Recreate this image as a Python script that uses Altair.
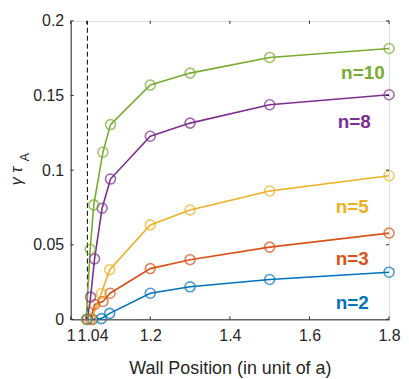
import altair as alt
import pandas as pd

# ---- data ----
x_n2 = [1.055, 1.077, 1.098, 1.2, 1.3, 1.5, 1.8]
y_n2 = [0.0, 0.0005, 0.004, 0.0175, 0.0218, 0.0267, 0.0316]
x_n3 = [1.05, 1.06, 1.081, 1.099, 1.2, 1.3, 1.5, 1.8]
y_n3 = [0.0, 0.010, 0.012, 0.0175, 0.034, 0.040, 0.0484, 0.0578]
x_n5 = [1.052, 1.077, 1.098, 1.2, 1.3, 1.5, 1.8]
y_n5 = [0.0, 0.0173, 0.0333, 0.0633, 0.0733, 0.086, 0.0962]
x_n8 = [1.042, 1.05, 1.06, 1.079, 1.10, 1.2, 1.3, 1.5, 1.8]
y_n8 = [0.0, 0.0149, 0.0405, 0.0745, 0.094, 0.1227, 0.1315, 0.1438, 0.1505]
x_n10 = [1.039, 1.049, 1.058, 1.081, 1.10, 1.2, 1.3, 1.5, 1.8]
y_n10 = [0.0, 0.047, 0.0767, 0.112, 0.1305, 0.157, 0.165, 0.1755, 0.1815]

series_names = ["n=2", "n=3", "n=5", "n=8", "n=10"]
series_colors = ["#0072BD", "#D95319", "#EDB120", "#7E2F8E", "#77AC30"]
series_x = [x_n2, x_n3, x_n5, x_n8, x_n10]
series_y = [y_n2, y_n3, y_n5, y_n8, y_n10]

label_x = [1.749, 1.749, 1.749, 1.754, 1.789]
label_y = [0.011, 0.0407, 0.0753, 0.1322, 0.165]

x_ticks = [1.0, 1.04, 1.2, 1.4, 1.6, 1.8]
y_ticks = [0.0, 0.05, 0.1, 0.15, 0.2]
wall_x = [1.042]

rows = []
for name, xs, ys in zip(series_names, series_x, series_y):
    for i, (a, b) in enumerate(zip(xs, ys)):
        rows.append({"series": name, "x": a, "y": b, "order": i})
df = pd.DataFrame(rows)
lab_df = pd.DataFrame({"series": series_names, "x": label_x, "y": label_y})
xt_df = pd.DataFrame({"v": x_ticks})
yt_df = pd.DataFrame({"v": y_ticks})
wall_df = pd.DataFrame({"x": wall_x, "y0": [0.0], "y1": [0.2]})

W, H = 320, 300
AX = "#262626"
FONT = "Liberation Sans"

xs = alt.Scale(domain=[1.0, 1.8], nice=False, zero=False)
ys = alt.Scale(domain=[0.0, 0.2], nice=False)
cs = alt.Scale(domain=series_names, range=series_colors)

x_axis = alt.Axis(values=x_ticks, tickSize=0, grid=False, labelFontSize=16,
                  labelColor=AX, titleColor=AX, titleFontSize=18, titleFontWeight="normal",
                  labelPadding=8, titlePadding=16, domainColor=AX,
                  labelFlush=False,
                  labelOffset={"condition": {"test": "datum.value == 1.04", "value": 6}, "value": 0},
                  labelExpr="datum.value == 1 ? '1' : format(datum.value, '.2~f')")
y_axis = alt.Axis(values=y_ticks, tickSize=0, grid=False, labelFontSize=16,
                  labelColor=AX, labelPadding=7, domainColor=AX, title=None,
                  labelFlush=False,
                  labelExpr="datum.value == 0 ? '0' : format(datum.value, '.2~f')")

base = alt.Chart(df)

lines = base.mark_line(strokeWidth=1.6).encode(
    x=alt.X("x:Q", scale=xs, axis=x_axis, title="Wall Position (in unit of a)"),
    y=alt.Y("y:Q", scale=ys, axis=y_axis),
    color=alt.Color("series:N", scale=cs, legend=None),
    order="order:Q",
)
points = base.mark_point(shape="circle", filled=False, size=100, strokeWidth=1.6).encode(
    x=alt.X("x:Q", scale=xs),
    y=alt.Y("y:Q", scale=ys),
    color=alt.Color("series:N", scale=cs, legend=None),
)
wall = alt.Chart(wall_df).mark_rule(color="black", strokeDash=[5, 3], strokeWidth=1).encode(
    x=alt.X("x:Q", scale=xs), y=alt.Y("y0:Q", scale=ys), y2="y1:Q"
)
labels = alt.Chart(lab_df).mark_text(align="right", baseline="middle", fontSize=19,
                                     fontWeight="bold", font=FONT).encode(
    x=alt.X("x:Q", scale=xs), y=alt.Y("y:Q", scale=ys),
    text="series:N",
    color=alt.Color("series:N", scale=cs, legend=None),
)

tick_len = 3
bt = alt.Chart(xt_df).mark_rule(color=AX, strokeWidth=1).encode(
    x=alt.X("v:Q", scale=xs), y=alt.value(H), y2=alt.value(H - tick_len))
tt = alt.Chart(xt_df).mark_rule(color=AX, strokeWidth=1).encode(
    x=alt.X("v:Q", scale=xs), y=alt.value(0), y2=alt.value(tick_len))
lt = alt.Chart(yt_df).mark_rule(color=AX, strokeWidth=1).encode(
    y=alt.Y("v:Q", scale=ys), x=alt.value(0), x2=alt.value(tick_len))
rt = alt.Chart(yt_df).mark_rule(color=AX, strokeWidth=1).encode(
    y=alt.Y("v:Q", scale=ys), x=alt.value(W), x2=alt.value(W - tick_len))

ytitle1 = alt.Chart(pd.DataFrame({"t": ["γ τ"]})).mark_text(
    angle=270, fontSize=16, fontStyle="italic", color=AX, font=FONT,
    align="center", baseline="middle").encode(
    text="t:N", x=alt.value(-54), y=alt.value(156))
ytitle2 = alt.Chart(pd.DataFrame({"t": ["A"]})).mark_text(
    angle=270, fontSize=13, color=AX, font=FONT, align="center", baseline="middle").encode(
    text="t:N", x=alt.value(-46), y=alt.value(137))

chart = alt.layer(wall, lines, points, labels, bt, tt, lt, rt, ytitle1, ytitle2).properties(
    width=W, height=H,
    autosize=alt.AutoSizeParams(type="none"),
    padding={"left": 63, "top": 12, "right": 12, "bottom": 58},
).configure_view(stroke=AX, strokeWidth=1).configure(font=FONT)

chart.save("out.html", embed_options={"renderer": "svg", "actions": False})
